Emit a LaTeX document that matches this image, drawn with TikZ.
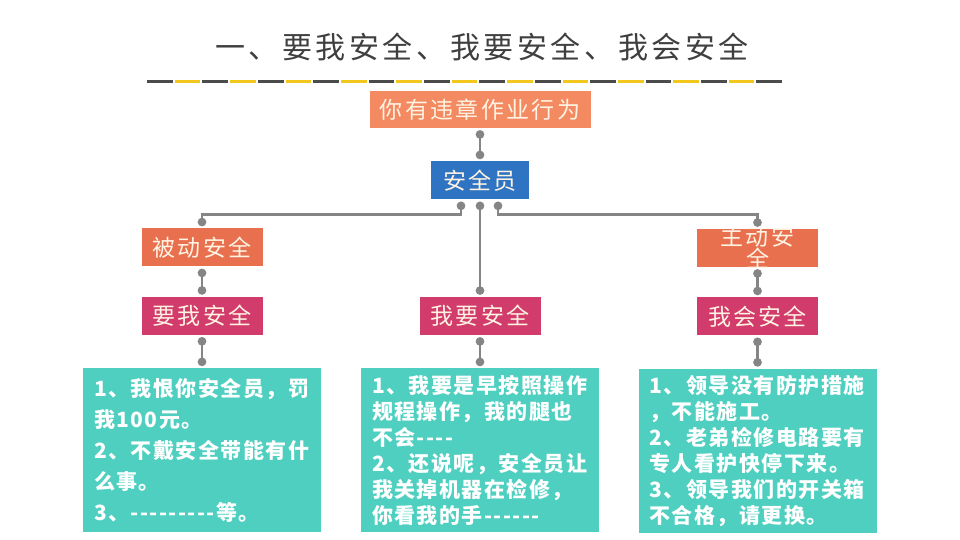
\documentclass[tikz,border=0pt]{standalone}
\usepackage{fontspec}
\usetikzlibrary{arrows.meta,positioning}
\newfontfamily\titlefont[LetterSpace=12]{Noto Sans CJK SC}
\newfontfamily\boxfont[LetterSpace=10]{Noto Sans CJK SC}
\newfontfamily\notefont[LetterSpace=7]{Noto Sans CJK SC}
\definecolor{titlegray}{HTML}{3F3F3F}
\definecolor{dashdark}{HTML}{4B4B4B}
\definecolor{dashyellow}{HTML}{F2C71E}
\definecolor{topsalmon}{HTML}{F48A62}
\definecolor{safeblue}{HTML}{2E74C2}
\definecolor{passorange}{HTML}{E8704E}
\definecolor{wantpink}{HTML}{D23C6C}
\definecolor{noteteal}{HTML}{4FCFC0}
\definecolor{linkgray}{HTML}{858585}
\definecolor{boxcream}{HTML}{FFF3E3}

\begin{document}
\begin{tikzpicture}[
            x=1pt, y=1pt,
            every node/.style={inner sep=0pt, text=boxcream},
            labelbox/.style={minimum width=121pt, minimum height=38pt, font=\boxfont\fontsize{23}{25}\selectfont},
            notebox/.style={fill=noteteal, text=white, text width=216pt, inner xsep=11pt, minimum height=164pt, align=left},
            link/.style={draw=linkgray, line width=2.8pt, {Circle[length=8.5pt]}-{Circle[length=8.5pt]}, shorten <=2pt, shorten >=2pt}
        ]
        \fill[white] (0,0) rectangle (960,540);
        \useasboundingbox (0,0) rectangle (960,540);

        \node[text=titlegray, font=\titlefont\fontsize{30}{32}\selectfont] (title) at (482,493) {一、要我安全、我要安全、我会安全};
        \draw[dashdark, line width=3pt, dash pattern=on 25.7pt off 29.7pt] (147,458) -- (783,458);
        \draw[dashyellow, line width=3pt, dash pattern=on 25.7pt off 29.7pt] (174.7,458) -- (783,458);

        % top of the chart
        \node[labelbox, fill=topsalmon, minimum width=221pt, minimum height=37pt] (act) at (480,430.5) {你有违章作业行为};
        \node[labelbox, fill=safeblue, minimum width=98pt, below=33pt of act] (officer) {安全员};

        % three columns
        \node[labelbox, fill=passorange] (passive) at (202,292.5) {被动安全};
        \node[labelbox, fill=passorange] (active) at (757.5,292) {};
        \begin{scope}
            \clip (active.south west) rectangle (active.north east);
            \node[font=\boxfont\fontsize{23}{22}\selectfont, align=center] at ([yshift=1pt]active.center) {主动安\\全};
        \end{scope}
        \node[labelbox, fill=wantpink, below=30pt of passive] (wantme) {要我安全};
        \node[labelbox, fill=wantpink] (iwant) at (480,224) {我要安全};
        \node[labelbox, fill=wantpink, below=30pt of active] (ican) {我会安全};

        \node[notebox, font=\notefont\bfseries\fontsize{21}{31}\selectfont, below=33pt of wantme] (noteA)
        {1、我恨你安全员，罚\\我100元。\\2、不戴安全带能有什\\么事。\\3、-{}-{}-{}-{}-{}-{}-{}-{}-等。};
        \node[notebox, font=\notefont\bfseries\fontsize{21}{26}\selectfont, below=33pt of iwant] (noteB)
        {1、我要是早按照操作\\规程操作，我的腿也\\不会-{}-{}-{}-\\2、还说呢，安全员让\\我关掉机器在检修，\\你看我的手-{}-{}-{}-{}-{}-};
        \node[notebox, font=\notefont\bfseries\fontsize{21}{26}\selectfont, below=33pt of ican] (noteC)
        {1、领导没有防护措施\\，不能施工。\\2、老弟检修电路要有\\专人看护快停下来。\\3、领导我们的开关箱\\不合格，请更换。};

        % connectors
        \draw[link] (act.south) -- (officer.north);
        \draw[link] ([xshift=-19pt]officer.south) -- ++(0,-15) -| (passive.north);
        \draw[link] (officer.south) -- (iwant.north);
        \draw[link] ([xshift=18pt]officer.south) -- ++(0,-15) -| (active.north);
        \draw[link] (passive) -- (wantme);
        \draw[link] (active) -- (ican);
        \draw[link] (wantme) -- (noteA);
        \draw[link] (iwant) -- (noteB);
        \draw[link] (ican) -- (noteC);
\end{tikzpicture}
\end{document}
